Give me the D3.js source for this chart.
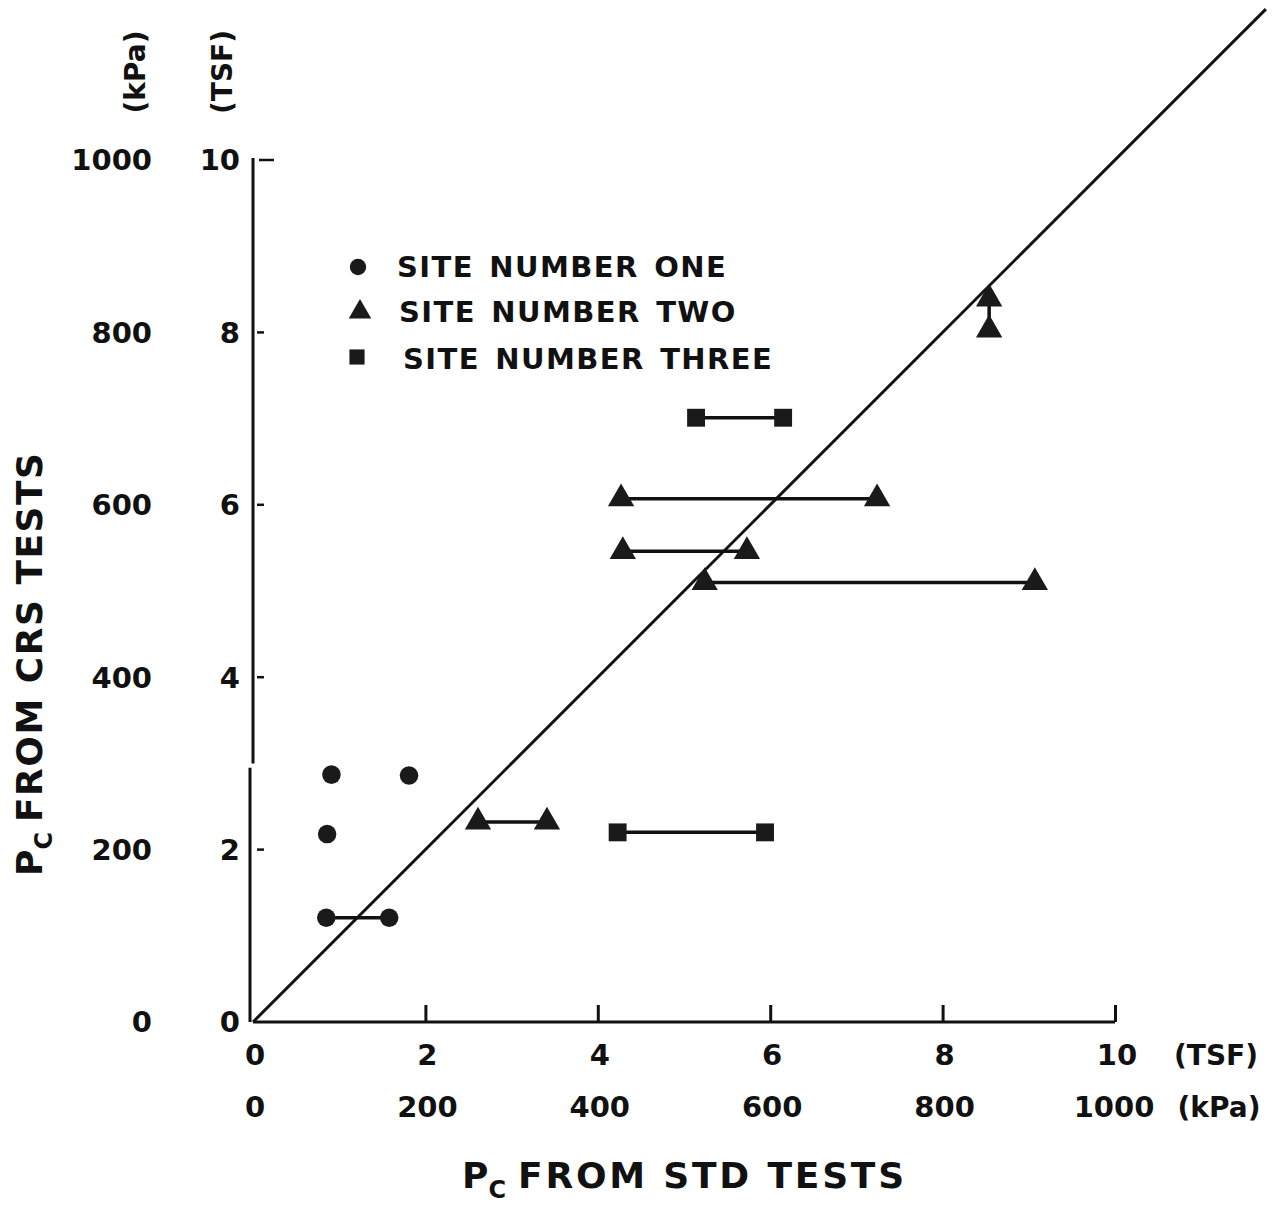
<!DOCTYPE html>
<html>
<head>
<meta charset="utf-8">
<script src="https://cdn.jsdelivr.net/npm/d3@7"></script>
<style>
  html, body { margin: 0; padding: 0; background: #fff; }
  svg { display: block; }
  text { font-family: "DejaVu Sans", sans-serif; fill: #111; }
</style>
</head>
<body>
<svg id="chart" width="1279" height="1205"></svg>
<script>
// Preconsolidation pressure (TSF): CRS tests vs standard tests.
// Each group is one sample; two points in a group are joined by a line.
const siteOne = [
  [[0.91, 2.87]],
  [[1.81, 2.86]],
  [[0.86, 2.18]],
  [[0.85, 1.21], [1.58, 1.21]]
];
const siteTwo = [
  [[2.61, 2.32], [3.41, 2.32]],
  [[4.27, 6.07], [7.24, 6.07]],
  [[4.29, 5.46], [5.73, 5.46]],
  [[5.24, 5.10], [9.07, 5.10]],
  [[8.54, 8.39], [8.54, 8.03]]
];
const siteThree = [
  [[5.14, 7.01], [6.15, 7.01]],
  [[4.23, 2.20], [5.94, 2.20]]
];
const legendLabels = ["SITE NUMBER ONE", "SITE NUMBER TWO", "SITE NUMBER THREE"];
const tsfTicks = [0, 2, 4, 6, 8, 10];
const kpaTicks = [0, 200, 400, 600, 800, 1000];
const equalityLine = [0, 11.75];

const svg = d3.select("#chart");
const x = d3.scaleLinear().domain([0, 10]).range([253, 1115]);
const y = d3.scaleLinear().domain([0, 10]).range([1022, 160]);
const ink = "#111";

// ---- axes ----
const xAxis = d3.axisBottom(x).tickValues(tsfTicks.slice(1)).tickSize(-17).tickFormat("");
const gx = svg.append("g").attr("transform", `translate(0,${y(0)})`).call(xAxis);
gx.select(".domain").attr("stroke", ink).attr("stroke-width", 3).attr("d", `M${x(0)},0H${x(10)}`);
gx.selectAll(".tick line").attr("stroke", ink).attr("stroke-width", 3);

// vertical axis, drawn in two pieces with a small offset
svg.append("line").attr("x1", x(0)).attr("x2", x(0)).attr("y1", y(10) - 2).attr("y2", y(3.0))
  .attr("stroke", ink).attr("stroke-width", 3);
svg.append("line").attr("x1", x(0) - 3).attr("x2", x(0) - 3).attr("y1", y(2.95)).attr("y2", y(0))
  .attr("stroke", ink).attr("stroke-width", 3);
svg.selectAll(".ytick").data(tsfTicks.slice(1)).join("line")
  .attr("x1", d => d === 10 ? x(0) + 6 : x(0) + 4)
  .attr("x2", d => d === 10 ? x(0) + 21 : x(0) + 11)
  .attr("y1", d => y(d)).attr("y2", d => y(d))
  .attr("stroke", ink).attr("stroke-width", 2.5);

// ---- tick labels ----
const tickFont = 29;
const tickWeight = "bold";
svg.selectAll(".ylabTsf").data(tsfTicks).join("text")
  .attr("x", 240).attr("y", d => y(d)).attr("dy", "0.36em")
  .attr("text-anchor", "end").attr("font-size", tickFont).attr("font-weight", tickWeight)
  .text(d => d);
svg.selectAll(".ylabKpa").data(kpaTicks).join("text")
  .attr("x", 152).attr("y", (d, i) => y(tsfTicks[i])).attr("dy", "0.36em")
  .attr("text-anchor", "end").attr("font-size", tickFont).attr("font-weight", tickWeight)
  .text(d => d);
svg.selectAll(".xlabTsf").data(tsfTicks).join("text")
  .attr("x", d => x(d) + 2).attr("y", 1055).attr("dy", "0.36em")
  .attr("text-anchor", "middle").attr("font-size", tickFont).attr("font-weight", tickWeight)
  .text(d => d);
svg.selectAll(".xlabKpa").data(kpaTicks).join("text")
  .attr("x", (d, i) => x(tsfTicks[i]) + (i === 5 ? -1 : 2)).attr("y", 1107).attr("dy", "0.36em")
  .attr("text-anchor", "middle").attr("font-size", tickFont).attr("font-weight", tickWeight)
  .text(d => d);

// unit labels
svg.append("text").attr("x", 1216).attr("y", 1055).attr("dy", "0.36em")
  .attr("text-anchor", "middle").attr("font-size", 28).attr("font-weight", "bold").text("(TSF)");
svg.append("text").attr("x", 1219).attr("y", 1107).attr("dy", "0.36em")
  .attr("text-anchor", "middle").attr("font-size", 28).attr("font-weight", "bold").text("(kPa)");
svg.append("text").attr("transform", "translate(135,72) rotate(-90)").attr("dy", "0.36em")
  .attr("text-anchor", "middle").attr("font-size", 28).attr("font-weight", "bold").text("(kPa)");
svg.append("text").attr("transform", "translate(222,72) rotate(-90)").attr("dy", "0.36em")
  .attr("text-anchor", "middle").attr("font-size", 28).attr("font-weight", "bold").text("(TSF)");

// ---- axis titles ----
const xt = svg.append("text").attr("x", 462).attr("y", 1188)
  .attr("font-size", 36).attr("font-weight", "bold");
xt.append("tspan").text("P");
xt.append("tspan").attr("font-size", 24).attr("dy", 10).text("C");
xt.append("tspan").attr("dy", -10).attr("dx", 12).attr("letter-spacing", 2.8).text("FROM STD  TESTS");

const yt = svg.append("text").attr("transform", "translate(42,876) rotate(-90)")
  .attr("font-size", 36).attr("font-weight", "bold");
yt.append("tspan").text("P");
yt.append("tspan").attr("font-size", 24).attr("dy", 10).text("C");
yt.append("tspan").attr("dy", -10).attr("dx", 10).attr("letter-spacing", 1.5).text("FROM CRS  TESTS");

// ---- 1:1 line ----
svg.append("line")
  .attr("x1", x(equalityLine[0])).attr("y1", y(equalityLine[0]))
  .attr("x2", x(equalityLine[1])).attr("y2", y(equalityLine[1]))
  .attr("stroke", ink).attr("stroke-width", 3);

// ---- data ----
const shapes = [
  { data: siteOne, symbol: d3.symbolCircle, size: 270 },
  { data: siteTwo, symbol: d3.symbolTriangle, size: 300 },
  { data: siteThree, symbol: d3.symbolSquare, size: 320 }
];
const line = d3.line().x(d => x(d[0])).y(d => y(d[1]));

shapes.forEach(s => {
  const groups = svg.append("g");
  groups.selectAll("path.link").data(s.data.filter(g => g.length > 1)).join("path")
    .attr("class", "link").attr("d", line)
    .attr("fill", "none").attr("stroke", ink).attr("stroke-width", 3.5);
  groups.selectAll("path.mark").data(s.data.flat()).join("path")
    .attr("class", "mark")
    .attr("transform", d => `translate(${x(d[0])},${y(d[1])})`)
    .attr("d", d3.symbol().type(s.symbol).size(s.size))
    .attr("fill", "#1a1a1a");
});

// ---- legend ----
const legendRows = [
  { symbol: d3.symbolCircle, size: 210, mx: 358, my: 267, tx: 397, ty: 267 },
  { symbol: d3.symbolTriangle, size: 220, mx: 360, my: 312, tx: 399, ty: 312 },
  { symbol: d3.symbolSquare, size: 230, mx: 357, my: 357, tx: 403, ty: 359 }
];
const lg = svg.append("g");
lg.selectAll("path").data(legendRows).join("path")
  .attr("transform", d => `translate(${d.mx},${d.my})`)
  .attr("d", d => d3.symbol().type(d.symbol).size(d.size)())
  .attr("fill", "#1a1a1a");
lg.selectAll("text").data(legendRows).join("text")
  .attr("x", d => d.tx).attr("y", d => d.ty).attr("dy", "0.36em")
  .attr("font-size", 29).attr("font-weight", "bold").attr("letter-spacing", 1.4)
  .attr("word-spacing", 4)
  .text((d, i) => legendLabels[i]);
</script>
</body>
</html>
